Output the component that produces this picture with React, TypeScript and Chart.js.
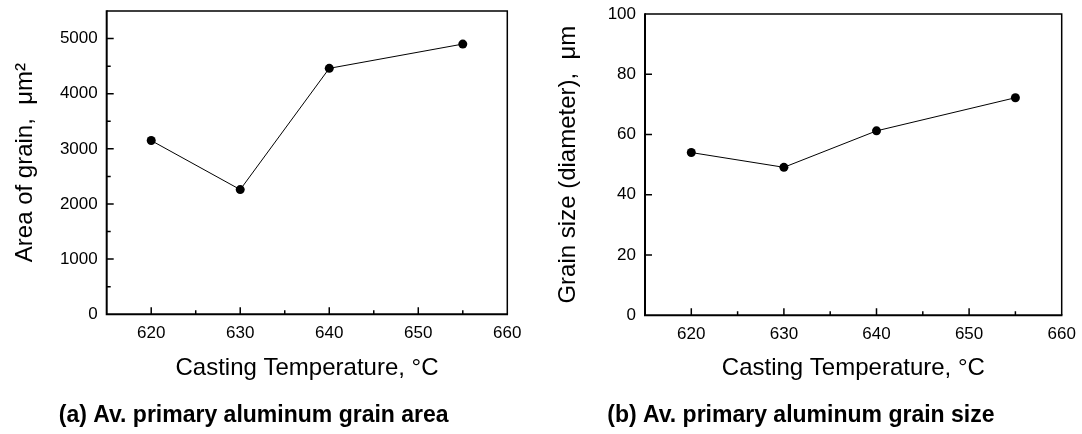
import React, { useEffect, useRef } from 'react';
import { Chart, registerables } from 'chart.js';

Chart.register(...registerables);

// ---- Data ----
const temperatures = [620, 630, 640, 655];
const grainArea = [3150, 2260, 4460, 4900];
const grainSize = [54, 49.1, 61.2, 72.2];

// ---- Tick labels ----
const xTickLabels = [620, 630, 640, 650, 660];
const areaTickLabels = [0, 1000, 2000, 3000, 4000, 5000];
const sizeTickLabels = [0, 20, 40, 60, 80, 100];

const FONT = "Arial, 'Liberation Sans', Helvetica, sans-serif";

const TICK_SIZE = 17;
const TITLE_SIZE = 24;
const CAPTION_SIZE = 23;

const frameTicks = {
  id: 'frameTicks',
  beforeDatasetsDraw(chart: any, _args: any, opts: any) {
    const { ctx, chartArea } = chart;
    const { left, right, top, bottom } = chartArea;
    ctx.save();
    ctx.strokeStyle = '#000';
    ctx.lineCap = 'butt';
    ctx.lineWidth = 1.5;
    ctx.beginPath();
    ctx.moveTo(left, top);
    ctx.lineTo(right, top);
    ctx.lineTo(right, bottom);
    ctx.stroke();
    ctx.lineWidth = 2;
    ctx.beginPath();
    ctx.moveTo(left, top - 0.75);
    ctx.lineTo(left, bottom);
    ctx.lineTo(right + 0.75, bottom);
    ctx.stroke();

    ctx.lineWidth = 1.5;
    const xs = chart.scales.x;
    const ys = chart.scales.y;
    const xMajor: number[] = opts.xMajor || [];
    const yMajor: number[] = opts.yMajor || [];
    ctx.beginPath();
    xs.ticks.forEach((t: any) => {
      const v = t.value;
      if (v <= xs.min || v >= xs.max) return;
      const p = xs.getPixelForValue(v);
      const len = xMajor.includes(v) ? 7 : 4;
      ctx.moveTo(p, bottom);
      ctx.lineTo(p, bottom - len);
    });
    ys.ticks.forEach((t: any) => {
      const v = t.value;
      if (v <= ys.min || v >= ys.max) return;
      const p = ys.getPixelForValue(v);
      const len = yMajor.includes(v) ? 7 : 4;
      ctx.moveTo(left, p);
      ctx.lineTo(left + len, p);
    });
    ctx.stroke();
    ctx.restore();
  },
};

interface PanelProps {
  left: number;
  width: number;
  height: number;
  values: number[];
  yMax: number;
  yStep: number;
  yLabels: number[];
  yTitle: string;
  caption: string;
  yAxisWidth: number;
  padTop: number;
  padRight: number;
  xAxisHeight: number;
  yTitlePad: number;
}

function Panel(p: PanelProps) {
  const ref = useRef<HTMLCanvasElement | null>(null);
  useEffect(() => {
    if (!ref.current) return;
    const data = temperatures.map((t, i) => ({ x: t, y: p.values[i] }));
    const chart = new Chart(ref.current, {
      type: 'line',
      data: {
        datasets: [
          {
            data,
            borderColor: '#000',
            borderWidth: 1,
            backgroundColor: '#000',
            pointBackgroundColor: '#000',
            pointBorderColor: '#000',
            pointRadius: 4.5,
            pointBorderWidth: 0,
            tension: 0,
            fill: false,
          },
        ],
      },
      options: {
        responsive: false,
        animation: false,
        devicePixelRatio: 1,
        layout: { padding: { top: p.padTop, right: p.padRight, left: 0, bottom: 0 } },
        plugins: {
          legend: { display: false },
          tooltip: { enabled: false },
          title: {
            display: true,
            position: 'bottom',
            text: p.caption,
            color: '#000',
            font: { family: FONT, size: CAPTION_SIZE, weight: 'bold', lineHeight: 1.2 },
            padding: { top: 0, bottom: 5 },
          },
          frameTicks: { xMajor: xTickLabels, yMajor: p.yLabels },
        } as any,
        scales: {
          x: {
            type: 'linear',
            min: 615,
            max: 660,
            grid: { display: false, drawTicks: false },
            border: { display: false },
            ticks: {
              stepSize: 5,
              color: '#000',
              padding: 9,
              maxRotation: 0,
              autoSkip: false,
              font: { family: FONT, size: TICK_SIZE },
              callback: (v: any) => (xTickLabels.includes(Number(v)) ? String(v) : ''),
            },
            title: {
              display: true,
              text: 'Casting Temperature, °C',
              color: '#000',
              font: { family: FONT, size: TITLE_SIZE, lineHeight: 1.2 },
              padding: { top: 0, bottom: 19 },
            },
            afterFit: (s: any) => {
              s.height = p.xAxisHeight;
              s.paddingLeft = 0;
              s.paddingRight = 0;
            },
          },
          y: {
            type: 'linear',
            min: 0,
            max: p.yMax,
            grid: { display: false, drawTicks: false },
            border: { display: false },
            ticks: {
              stepSize: p.yStep,
              color: '#000',
              padding: 9,
              autoSkip: false,
              font: { family: FONT, size: TICK_SIZE },
              callback: (v: any) => (p.yLabels.includes(Number(v)) ? String(v) : ''),
            },
            title: {
              display: true,
              text: p.yTitle,
              color: '#000',
              font: { family: FONT, size: TITLE_SIZE, lineHeight: 1.2 },
              padding: { top: p.yTitlePad, bottom: 0 },
            },
            afterFit: (s: any) => {
              s.width = p.yAxisWidth;
              s.paddingTop = 0;
              s.paddingBottom = 0;
            },
          },
        },
      } as any,
      plugins: [frameTicks as any],
    });
    return () => chart.destroy();
  }, []);
  return (
    <div style={{ position: 'absolute', left: p.left, top: 0, width: p.width, height: p.height }}>
      <canvas ref={ref} width={p.width} height={p.height} style={{ display: 'block' }} />
    </div>
  );
}

export default function App() {
  return (
    <div
      style={{
        position: 'fixed',
        left: 0,
        top: 0,
        width: 1082,
        height: 434,
        background: '#fff',
        overflow: 'hidden',
      }}
    >
      <Panel
        left={0}
        width={540}
        height={434}
        values={grainArea}
        yMax={5500}
        yStep={500}
        yLabels={areaTickLabels}
        yTitle={'Area of grain,  μm²'}
        caption={'(a) Av. primary aluminum grain area'}
        yAxisWidth={106.7}
        padTop={11}
        padRight={32.7}
        xAxisHeight={87.2}
        yTitlePad={11}
      />
      <Panel
        left={540}
        width={542}
        height={434}
        values={grainSize}
        yMax={100}
        yStep={20}
        yLabels={sizeTickLabels}
        yTitle={'Grain size (diameter),  μm'}
        caption={'(b) Av. primary aluminum grain size'}
        yAxisWidth={105}
        padTop={14}
        padRight={20.3}
        xAxisHeight={86.2}
        yTitlePad={14}
      />
    </div>
  );
}
